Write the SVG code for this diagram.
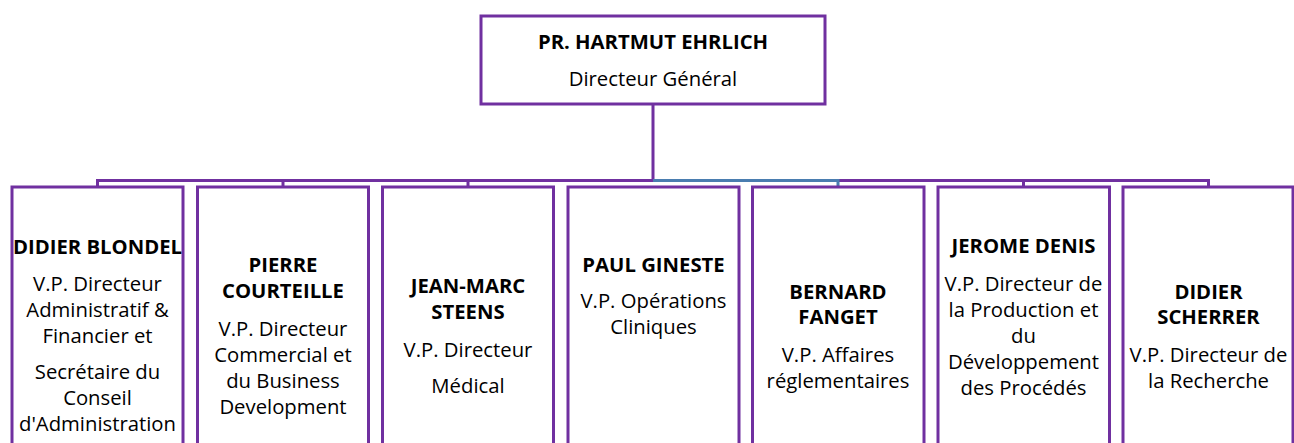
<svg xmlns="http://www.w3.org/2000/svg" width="1294" height="443" viewBox="0 0 1294 443">
<style>
.box{fill:#fff;stroke:#7030A0;stroke-width:3}
.ln{fill:none;stroke:#7030A0;stroke-width:3}
.lb{fill:none;stroke:#4A7DB0;stroke-width:3}
text{font-family:"Open Sans","Noto Sans",sans-serif;font-size:20.3px;fill:#000;text-anchor:middle}
.n{font-weight:bold}
</style>
<rect width="1294" height="443" fill="#fff"/>
<g id="connectors">
<path class="ln" d="M653,104 V180.5 H97.5 V187"/>
<path class="ln" d="M283,180.5 V187"/>
<path class="ln" d="M468,180.5 V187"/>
<path class="ln" d="M838,180.5 H1208.5 V187"/>
<path class="ln" d="M1023.5,180.5 V187"/>
<path class="lb" d="M653,180.5 H838 V187"/>
</g>
<g id="ceo">
<rect class="box" x="481" y="16" width="344" height="88"/>
<text class="n" x="653" y="49">PR. HARTMUT EHRLICH</text>
<text x="653" y="86">Directeur Général</text>
</g>
<g id="blondel">
<rect class="box" x="12" y="187" width="171" height="270"/>
<text class="n" x="97.5" y="254">DIDIER BLONDEL</text>
<text x="97.5" y="290.7">V.P. Directeur</text>
<text x="97.5" y="316.7">Administratif &amp;</text>
<text x="97.5" y="343.3">Financier et</text>
<text x="97.5" y="378.8">Secrétaire du</text>
<text x="97.5" y="404.6">Conseil</text>
<text x="97.5" y="430.8">d'Administration</text>
</g>
<g id="courteille">
<rect class="box" x="197.5" y="187" width="171" height="270"/>
<text class="n" x="283" y="271.7">PIERRE</text>
<text class="n" x="283" y="298.3">COURTEILLE</text>
<text x="283" y="336.4">V.P. Directeur</text>
<text x="283" y="362.3">Commercial et</text>
<text x="283" y="388">du Business</text>
<text x="283" y="414">Development</text>
</g>
<g id="steens">
<rect class="box" x="382.5" y="187" width="171" height="270"/>
<text class="n" x="468" y="293.3">JEAN-MARC</text>
<text class="n" x="468" y="319">STEENS</text>
<text x="468" y="356.7">V.P. Directeur</text>
<text x="468" y="392.7">Médical</text>
</g>
<g id="gineste">
<rect class="box" x="568" y="187" width="171" height="270"/>
<text class="n" x="653.5" y="271.7">PAUL GINESTE</text>
<text x="653.5" y="308.3">V.P. Opérations</text>
<text x="653.5" y="334">Cliniques</text>
</g>
<g id="fanget">
<rect class="box" x="752.5" y="187" width="171.5" height="270"/>
<text class="n" x="838" y="299">BERNARD</text>
<text class="n" x="838" y="324.3">FANGET</text>
<text x="838" y="361.7">V.P. Affaires</text>
<text x="838" y="387.5">réglementaires</text>
</g>
<g id="denis">
<rect class="box" x="938" y="187" width="171.5" height="270"/>
<text class="n" x="1023.5" y="253.3">JEROME DENIS</text>
<text x="1023.5" y="290.7">V.P. Directeur de</text>
<text x="1023.5" y="316.7">la Production et</text>
<text x="1023.5" y="343">du</text>
<text x="1023.5" y="369.2">Développement</text>
<text x="1023.5" y="395.3">des Procédés</text>
</g>
<g id="scherrer">
<rect class="box" x="1123" y="187" width="170" height="270"/>
<text class="n" x="1208.5" y="299">DIDIER</text>
<text class="n" x="1208.5" y="324.3">SCHERRER</text>
<text x="1208.5" y="361.7">V.P. Directeur de</text>
<text x="1208.5" y="387.5">la Recherche</text>
</g>
</svg>
